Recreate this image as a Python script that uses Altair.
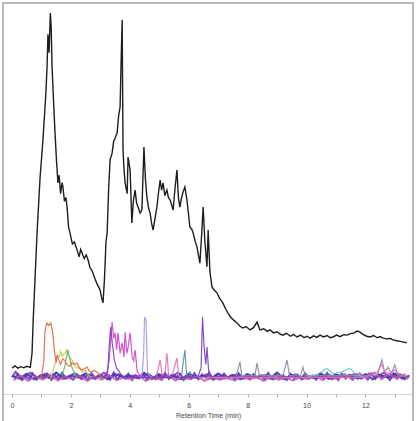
import altair as alt
import pandas as pd

# ---- Total ion chromatogram (black) : retention time (min), relative intensity (%)
TIC_T = [0.00, 0.10, 0.20, 0.30, 0.40, 0.50, 0.62, 0.68, 0.72, 0.85, 0.95, 1.05, 1.15, 1.19,
         1.22, 1.26, 1.30, 1.33, 1.36, 1.41, 1.46, 1.51, 1.56, 1.60, 1.65, 1.70, 1.73, 1.78,
         1.83, 1.87, 1.92, 1.97, 2.05, 2.12, 2.21, 2.28, 2.33, 2.38, 2.45, 2.52, 2.58, 2.65,
         2.70, 2.75, 2.82, 2.90, 2.99, 3.04, 3.09, 3.14, 3.19, 3.23, 3.28, 3.33, 3.40, 3.45,
         3.50, 3.57, 3.62, 3.67, 3.70, 3.74, 3.77, 3.80, 3.84, 3.91, 3.94, 4.01, 4.07, 4.12,
         4.18, 4.23, 4.28, 4.35, 4.41, 4.48, 4.53, 4.58, 4.64, 4.69, 4.74, 4.79, 4.85, 4.92,
         4.97, 5.03, 5.08, 5.13, 5.19, 5.26, 5.31, 5.37, 5.42, 5.47, 5.53, 5.60, 5.65, 5.70,
         5.76, 5.81, 5.87, 5.94, 6.00, 6.04, 6.10, 6.15, 6.21, 6.28, 6.33, 6.38, 6.44, 6.49,
         6.55, 6.62, 6.66, 6.72, 6.79, 6.87, 6.96, 7.05, 7.16, 7.25, 7.33, 7.42, 7.52, 7.64,
         7.74, 7.84, 7.95, 8.08, 8.20, 8.32, 8.42, 8.55, 8.66, 8.76, 8.88, 9.00, 9.10, 9.20,
         9.32, 9.45, 9.56, 9.68, 9.80, 9.92, 10.02, 10.12, 10.24, 10.35, 10.46, 10.58, 10.70,
         10.80, 10.90, 11.02, 11.14, 11.26, 11.38, 11.50, 11.62, 11.72, 11.82, 11.92, 12.04,
         12.16, 12.28, 12.40, 12.50, 12.60, 12.72, 12.84, 12.94, 13.06, 13.18, 13.30, 13.41]
TIC_V = [4.0, 4.6, 4.0, 4.4, 4.1, 4.5, 4.2, 8.0, 17.0, 40.4, 55.0, 65.5, 78.0, 85.2,
         94.0, 89.0, 99.7, 96.0, 85.2, 76.0, 67.4, 60.0, 53.9, 56.0, 51.0, 54.0, 52.8, 49.0,
         50.0, 47.4, 42.0, 40.4, 37.5, 38.0, 35.8, 34.0, 36.0, 35.0, 33.5, 34.5, 33.2, 31.0,
         30.5, 29.6, 28.0, 26.5, 25.1, 23.0, 21.6, 28.0, 38.0, 40.4, 52.0, 60.1, 62.0, 65.0,
         66.0, 67.4, 72.0, 74.4, 85.0, 97.8, 62.8, 58.0, 53.9, 51.0, 60.9, 57.4, 43.1, 49.0,
         52.0, 48.5, 47.4, 45.8, 46.6, 63.6, 55.0, 50.1, 47.0, 45.8, 43.0, 41.2, 44.0, 47.4,
         51.0, 54.7, 52.0, 53.9, 50.5, 52.0, 50.0, 49.3, 48.0, 46.6, 52.0, 57.4, 50.0, 47.4,
         50.0, 51.5, 52.8, 49.3, 45.0, 42.0, 41.5, 40.4, 38.5, 36.7, 34.5, 32.3, 40.0, 47.4,
         38.0, 31.3, 41.2, 30.0, 25.9, 25.0, 24.3, 22.8, 21.6, 20.0, 18.9, 17.8, 17.0, 16.2,
         15.3, 14.8, 15.2, 14.3, 14.9, 16.4, 14.3, 14.6, 13.9, 14.3, 13.5, 13.8, 13.2, 12.9,
         13.4, 12.6, 13.1, 12.4, 12.9, 12.2, 12.6, 12.1, 12.7, 12.3, 12.9, 12.4, 12.8,
         12.2, 12.4, 12.9, 12.5, 13.0, 12.9, 13.3, 13.5, 14.0, 13.7, 13.1, 12.6,
         12.4, 12.8, 12.2, 12.5, 12.1, 11.9, 12.0, 11.6, 11.4, 11.2, 11.0, 10.8]

# ---- Extracted ion traces (coloured)
RED_T = [0.95, 1.02, 1.08, 1.12, 1.18, 1.25, 1.32, 1.39, 1.45, 1.50, 1.53, 1.60, 1.65, 1.72,
         1.80, 1.88, 1.95, 2.03, 2.10, 2.21, 2.28, 2.35, 2.45, 2.55, 2.62, 2.70, 2.80, 2.89,
         3.00, 3.10]
RED_V = [1.0, 2.5, 6.0, 14.0, 16.2, 15.5, 16.2, 13.0, 8.0, 5.5, 7.5, 6.0, 5.0, 6.5,
         6.0, 4.8, 4.5, 5.5, 5.0, 5.4, 4.0, 3.5, 3.8, 4.3, 3.2, 3.0, 3.4, 3.0,
         2.0, 1.5]

YEL_T = [1.30, 1.38, 1.45, 1.50, 1.55, 1.60, 1.65, 1.70, 1.75, 1.80, 1.85, 1.90, 1.95, 2.00,
         2.05, 2.12, 2.20, 2.30, 2.40, 2.50, 2.60, 2.70]
YEL_V = [1.0, 3.0, 5.0, 6.0, 7.5, 7.0, 8.5, 7.2, 7.8, 8.0, 9.0, 7.5, 7.0, 6.5,
         6.0, 5.0, 4.0, 4.2, 3.0, 3.4, 2.0, 1.5]

GRN_T = [1.70, 1.78, 1.85, 1.90, 1.95, 2.02, 2.10, 2.20]
GRN_V = [2.0, 4.0, 7.0, 8.9, 7.0, 4.5, 3.0, 1.5]

MAG_T = [3.20, 3.30, 3.37, 3.40, 3.45, 3.50, 3.55, 3.60, 3.67, 3.74, 3.80, 3.84, 3.90, 3.95,
         4.01, 4.08, 4.13, 4.18, 4.25, 4.35]
MAG_V = [2.0, 6.0, 14.0, 16.4, 12.0, 13.5, 9.0, 13.5, 8.0, 10.8, 7.0, 13.7, 8.0, 10.0,
         13.5, 7.0, 6.0, 8.9, 3.0, 2.0]

PUR_T = [3.15, 3.25, 3.30, 3.35, 3.40, 3.48, 3.55, 3.65, 3.75,
         6.30, 6.42, 6.47, 6.52, 6.58, 6.62, 6.68, 6.80]
PUR_V = [1.5, 3.0, 10.0, 15.0, 11.0, 6.0, 4.0, 3.0, 1.5,
         1.5, 4.0, 17.8, 10.0, 5.0, 9.7, 3.0, 1.5]

LAV_T = [4.35, 4.42, 4.47, 4.50, 4.55, 4.60, 4.66, 4.75]
LAV_V = [1.5, 2.5, 8.0, 17.8, 17.0, 3.0, 2.0, 1.5]

PNK_T = [4.90, 5.03, 5.10, 5.20, 5.26, 5.32, 5.45, 5.60, 5.66, 5.80,
         12.00, 12.20, 12.40, 12.56, 12.65, 12.80, 13.00, 13.20, 13.40]
PNK_V = [1.5, 6.2, 2.0, 3.0, 8.1, 2.0, 2.5, 6.7, 2.0, 1.5,
         1.5, 2.5, 3.0, 5.0, 3.0, 2.5, 3.5, 2.0, 2.5]

TEAL_T = [5.75, 5.87, 5.93, 6.05, 6.12]
TEAL_V = [1.5, 8.9, 2.0, 3.0, 1.5]

GRY_T = [7.60, 7.74, 7.80, 8.25, 8.32, 8.40, 9.20, 9.34, 9.42, 9.80, 9.88, 9.95,
         12.40, 12.56, 12.65, 12.77, 12.88, 13.00, 13.10, 13.50]
GRY_V = [1.5, 5.7, 2.0, 2.0, 5.4, 2.0, 2.0, 6.2, 2.0, 2.0, 4.3, 2.0,
         2.0, 6.2, 3.0, 4.3, 2.5, 4.9, 2.0, 1.5]

CYN_T = [10.00, 10.40, 10.70, 10.90, 11.20, 11.48, 11.70, 12.00]
CYN_V = [1.5, 2.5, 4.0, 2.5, 3.0, 4.0, 2.0, 1.5]

# baseline noise traces
BLU_T = [0.00, 0.25, 0.50, 0.75, 1.00, 1.25, 1.50, 1.75, 2.00, 2.25, 2.50, 2.75, 3.00, 3.25,
         3.50, 3.75, 4.00, 4.25, 4.50, 4.75, 5.00, 5.25, 5.50, 5.75, 6.00, 6.25, 6.50, 6.75,
         7.00, 7.25, 7.50, 7.75, 8.00, 8.25, 8.50, 8.75, 9.00, 9.25, 9.50, 9.75, 10.00, 10.25,
         10.50, 10.75, 11.00, 11.25, 11.50, 11.75, 12.00, 12.25, 12.50, 12.75, 13.00, 13.25, 13.50]
BLU_V = [2.0, 1.2, 2.5, 1.0, 2.2, 1.4, 2.8, 1.1, 2.0, 1.5, 2.6, 1.2, 2.2, 1.0,
         2.4, 1.6, 2.0, 1.3, 2.7, 1.1, 2.3, 1.5, 2.1, 1.0, 2.5, 1.4, 2.0, 1.2,
         2.6, 1.3, 2.2, 1.0, 2.4, 1.5, 2.1, 1.2, 2.8, 1.0, 2.2, 1.4, 2.0, 1.3,
         2.5, 1.1, 2.3, 1.6, 2.0, 1.2, 2.4, 1.0, 2.2, 1.5, 2.6, 1.2, 2.0]

NAVY_T = [0.08, 0.20, 0.33, 0.45, 0.58, 0.70, 0.83, 0.95, 1.08, 1.20, 1.33, 1.45, 1.58, 1.70,
          1.83, 1.95, 2.08, 2.20, 2.33, 2.45, 2.58, 2.70, 2.83, 2.95, 3.08, 3.20, 3.33, 3.45,
          3.58, 3.70, 3.83, 3.95, 4.08, 4.20, 4.33, 4.45, 4.58, 4.70, 4.83, 4.95, 5.08, 5.20,
          5.33, 5.45, 5.58, 5.70, 5.83, 5.95, 6.08, 6.20, 6.33, 6.45, 6.58, 6.70, 6.83, 6.95,
          7.08, 7.20, 7.33, 7.45, 7.58, 7.70, 7.83, 7.95, 8.08, 8.20, 8.33, 8.45, 8.58, 8.70,
          8.83, 8.95, 9.08, 9.20, 9.33, 9.45, 9.58, 9.70, 9.83, 9.95, 10.08, 10.20, 10.33,
          10.45, 10.58, 10.70, 10.83, 10.95, 11.08, 11.20, 11.33, 11.45, 11.58, 11.70, 11.83,
          11.95, 12.08, 12.20, 12.33, 12.45, 12.58, 12.70, 12.83, 12.95, 13.08, 13.20, 13.33, 13.45]
NAVY_V = [1.2, 2.4, 0.8, 2.0, 1.1, 2.6, 0.9, 1.8, 1.3, 2.5, 0.8, 2.2, 1.0, 2.7,
          1.2, 1.9, 0.9, 2.4, 1.3, 2.1, 0.8, 2.6, 1.1, 2.0, 1.4, 2.3, 0.9, 2.8,
          1.0, 2.2, 1.3, 2.5, 0.8, 2.1, 1.2, 2.6, 1.0, 1.9, 1.4, 2.4, 0.9, 2.7,
          1.1, 2.0, 1.3, 2.5, 0.8, 2.2, 1.2, 2.6, 1.0, 2.3, 1.4, 2.8, 0.9, 2.1,
          1.1, 2.5, 1.3, 2.0, 0.8, 2.6, 1.2, 2.2, 1.0, 2.4, 1.4, 2.0, 0.9, 2.7,
          1.1, 2.3, 1.3, 2.1, 0.8, 2.5, 1.2, 2.2, 1.0, 2.6, 1.3, 2.0, 0.9,
          2.4, 1.1, 2.7, 1.4, 2.1, 0.8, 2.5, 1.2, 2.2, 1.0, 2.4, 1.3,
          2.0, 0.9, 2.6, 1.1, 2.3, 1.4, 2.0, 0.8, 2.5, 1.2, 2.2, 1.0, 1.8]

VIO_T = [0.00, 0.12, 0.37, 0.62, 0.87, 1.12, 1.37, 1.62, 1.87, 2.12, 2.37, 2.62, 2.87, 3.12,
         3.37, 3.62, 3.87, 4.12, 4.37, 4.62, 4.87, 5.12, 5.37, 5.62, 5.87, 6.12, 6.37, 6.62,
         6.87, 7.12, 7.37, 7.62, 7.87, 8.12, 8.37, 8.62, 8.87, 9.12, 9.37, 9.62, 9.87, 10.12,
         10.37, 10.62, 10.87, 11.12, 11.37, 11.62, 11.87, 12.12, 12.37, 12.62, 12.87, 13.12, 13.40]
VIO_V = [1.5, 3.0, 1.0, 2.8, 1.4, 2.5, 1.2, 2.2, 1.6, 2.6, 1.0, 2.3, 1.4, 2.8,
         1.5, 2.4, 1.1, 2.0, 1.6, 2.5, 1.0, 2.2, 1.5, 2.7, 1.2, 2.0, 1.4, 2.4,
         1.0, 2.1, 1.5, 2.3, 1.2, 1.9, 1.4, 2.2, 1.0, 2.0, 1.5, 2.3, 1.1, 1.8,
         1.4, 2.1, 1.0, 2.0, 1.6, 2.4, 1.2, 2.6, 1.5, 2.8, 1.3, 2.4, 1.5]

ROSE_T = [0.05, 0.30, 0.55, 0.80, 1.05, 1.30, 1.55, 1.80, 2.05, 2.30, 2.55, 2.80, 3.05, 3.30,
          3.55, 3.80, 4.05, 4.30, 4.55, 4.80, 5.05, 5.30, 5.55, 5.80, 6.05, 6.30, 6.55, 6.80,
          7.05, 7.30, 7.55, 7.80, 8.05, 8.30, 8.55, 8.80, 9.05, 9.30, 9.55, 9.80, 10.05, 10.30,
          10.55, 10.80, 11.05, 11.30, 11.55, 11.80, 12.05, 12.30, 12.55, 12.80, 13.05, 13.30, 13.45]
ROSE_V = [0.8, 2.0, 0.6, 1.8, 0.9, 2.2, 0.7, 1.6, 1.0, 2.0, 0.6, 1.7, 0.9, 2.1,
          0.8, 1.5, 1.0, 1.9, 0.6, 1.6, 0.9, 2.0, 0.7, 1.5, 1.0, 1.8, 0.6, 1.6,
          0.9, 1.4, 0.7, 1.7, 1.0, 1.5, 0.6, 1.8, 0.9, 1.4, 0.7, 1.6, 1.0, 1.9,
          0.8, 2.2, 1.0, 2.4, 0.9, 2.6, 1.2, 2.8, 1.0, 2.5, 1.2, 2.2, 1.0]

BASE = [
    ("blue", BLU_T, BLU_V, "#2424a6"),
    ("navy", NAVY_T, NAVY_V, "#3a3ab8"),
    ("violet", VIO_T, VIO_V, "#7436b4"),
    ("rose", ROSE_T, ROSE_V, "#c850b0"),
]
PEAKS = [
    ("grey", GRY_T, GRY_V, "#8a8aa0"),
    ("cyan", CYN_T, CYN_V, "#5cc8dc"),
    ("pink", PNK_T, PNK_V, "#e070b8"),
    ("teal", TEAL_T, TEAL_V, "#5e8aa6"),
    ("yellow", YEL_T, YEL_V, "#c8c84a"),
    ("green", GRN_T, GRN_V, "#62b862"),
    ("red", RED_T, RED_V, "#e4643a"),
    ("magenta", MAG_T, MAG_V, "#cc44d0"),
    ("purple", PUR_T, PUR_V, "#7c3cc4"),
    ("lavender", LAV_T, LAV_V, "#a596e6"),
]


def frame(series):
    rows = []
    for name, ts, vs, _ in series:
        for i, (t, v) in enumerate(zip(ts, vs)):
            rows.append({"series": name, "t": t, "v": v, "i": i})
    return pd.DataFrame(rows)


base_df = frame(BASE)
peak_df = frame(PEAKS)
tic = pd.DataFrame({"t": TIC_T, "v": TIC_V, "i": list(range(len(TIC_T)))})

TICKS = [i * 0.25 for i in range(55)]

x_enc = alt.X(
    "t:Q",
    scale=alt.Scale(domain=[-0.306, 13.616], nice=False, zero=False),
    axis=alt.Axis(
        values=TICKS,
        format="d",
        labelExpr="(datum.value % 2 == 0) ? datum.label : ''",
        title="Retention Time (min)",
        offset=-30,
        grid=False,
        domain=True,
        domainColor="#c8c8c8",
        domainWidth=0.8,
        tickColor="#999999",
        tickSize=3,
        tickWidth=0.8,
        labelFontSize=7,
        labelColor="#444444",
        labelPadding=4,
        labelFont="Liberation Sans",
        labelOverlap=False,
        labelFlush=False,
        titleFontSize=7,
        titleFontWeight="normal",
        titleColor="#444444",
        titleFont="Liberation Sans",
        titlePadding=3,
    ),
)
y_enc = alt.Y("v:Q", scale=alt.Scale(domain=[-11.05, 102.4], nice=False, zero=False), axis=None)

ALL = BASE + PEAKS
color_scale = alt.Scale(domain=[s[0] for s in ALL], range=[s[3] for s in ALL])

base_layer = alt.Chart(base_df).mark_line(strokeWidth=2.0, opacity=0.85).encode(
    x=x_enc, y=y_enc,
    color=alt.Color("series:N", scale=color_scale, legend=None),
    order="i:Q",
)

peak_layer = alt.Chart(peak_df).mark_line(strokeWidth=1.2, opacity=0.9).encode(
    x=x_enc, y=y_enc,
    color=alt.Color("series:N", scale=color_scale, legend=None),
    order="i:Q",
)

black = alt.Chart(tic).mark_line(strokeWidth=1.4, color="#1e1e1e").encode(
    x=x_enc, y=y_enc, order="i:Q"
)

chart = (
    alt.layer(base_layer, peak_layer, black)
    .properties(
        width=410,
        height=421,
        autosize=alt.AutoSizeParams(type="none"),
        padding={"left": 3, "top": 3, "right": 5, "bottom": 0},
        background="white",
    )
    .configure_view(stroke="#a0a0a0", strokeWidth=1.5)
)

chart.save("out.html", embed_options={"renderer": "svg", "actions": False})
